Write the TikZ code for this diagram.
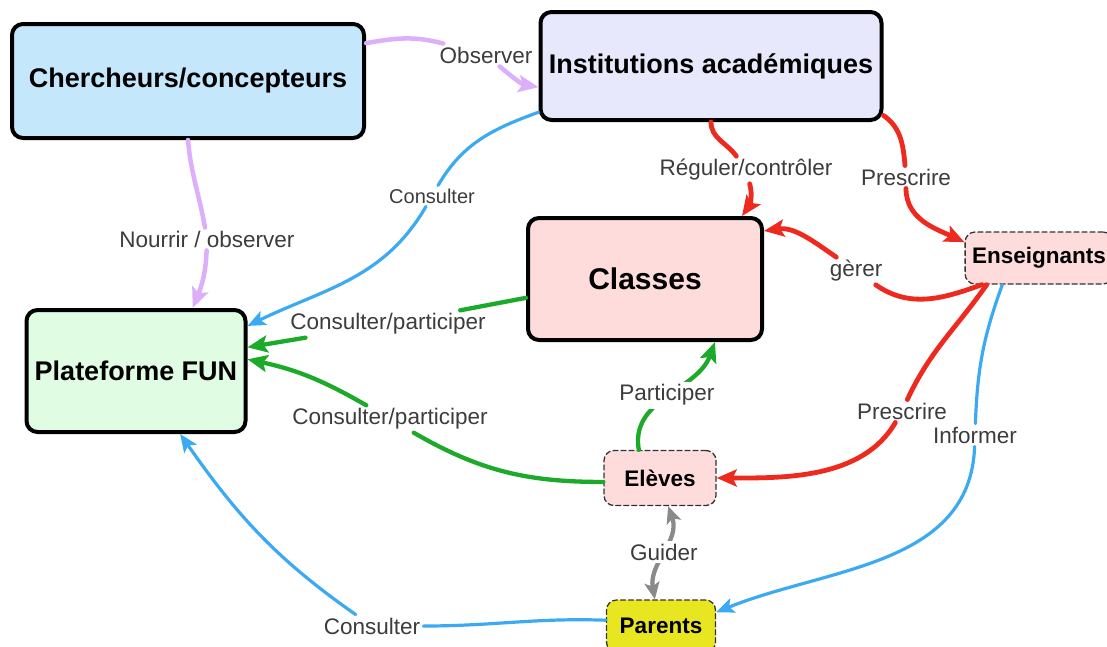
\documentclass[tikz,border=0pt]{standalone}
\usepackage{fontspec}
\setmainfont{Liberation Sans}
\usepackage{tikz}
\usetikzlibrary{arrows.meta, positioning}
\definecolor{fcblue}{HTML}{C5E7FC}
\definecolor{fclav}{HTML}{E8E8FC}
\definecolor{fcpink}{HTML}{FDDCDB}
\definecolor{fcgreen}{HTML}{E0FCE2}
\definecolor{fcyel}{HTML}{E8E620}
\definecolor{eglav}{HTML}{DDAEFA}
\definecolor{egblue}{HTML}{3BAAF3}
\definecolor{egred}{HTML}{EE2A1E}
\definecolor{eggreen}{HTML}{1DAA2A}
\definecolor{eggray}{HTML}{8A8A8A}
\definecolor{labtext}{HTML}{3C3C3C}

\begin{document}
\begin{tikzpicture}[
  x=1pt, y=-1pt,
  >={Stealth[length=20pt,width=17pt,inset=4pt]},
  line cap=round, line join=round,
  actor/.style={draw=black, line width=4pt, rounded corners=11pt, align=center,
    font=\fontsize{27}{30}\selectfont\bfseries, inner sep=4pt},
  member/.style={draw=black!80, line width=1.3pt, dash pattern=on 5pt off 3pt,
    rounded corners=10pt, fill=fcpink, font=\fontsize{22.5}{26}\selectfont\bfseries,
    inner xsep=7pt},
  lab/.style={font=\fontsize{22.5}{26}\selectfont, text=labtext, inner sep=3pt},
  lav/.style={->, draw=eglav, line width=4.5pt},
  blu/.style={->, draw=egblue, line width=3.2pt, >={Stealth[length=18pt,width=15pt,inset=4pt]}},
  rd/.style={->, draw=egred, line width=4.8pt},
  grn/.style={->, draw=eggreen, line width=4.3pt},
  gry/.style={<->, draw=eggray, line width=4.3pt, >={Stealth[length=17pt,width=15pt,inset=4pt]}},
]
\useasboundingbox (0,0) rectangle (1107,646);

% actors
\node[actor, fill=fcblue, minimum width=352pt, minimum height=114pt] (ch) at (188,81) {Chercheurs/concepteurs};
\node[actor, fill=fclav, minimum width=341pt, minimum height=108pt] (inst) at (711,66) {Institutions académiques};
\node[actor, fill=fcpink, minimum width=234pt, minimum height=122pt,
  font=\fontsize{30}{34}\selectfont\bfseries] (cls) at (645,279) {Classes};
\node[actor, fill=fcgreen, minimum width=219pt, minimum height=122pt] (fun) at (136,371) {Plateforme FUN};
\node[member, minimum height=52pt] (ens) at (1039,258) {Enseignants};
\node[member, minimum width=112pt, minimum height=55pt] (elv) at (660,478) {Elèves};
\node[member, fill=fcyel, minimum width=109pt, minimum height=52pt] (par) at (661,626) {Parents};

% labels the connectors run through
\node[lab] (obs) at (486,55) {Observer};
\node[lab] (nour) at (207,239) {Nourrir / observer};
\node[lab, font=\fontsize{20}{24}\selectfont] (con1) at (432,196) {Consulter};
\node[lab] (reg) at (746,170) {Réguler/contrôler};
\node[lab] (pre1) at (906,177) {Prescrire};
\node[lab] (ger) at (856,271) {gèrer};
\node[lab] (pre2) at (902,411) {Prescrire};
\node[lab] (inf) at (975,435) {Informer};
\node[lab] (cp1) at (388,324) {Consulter/participer};
\node[lab] (cp2) at (390,419) {Consulter/participer};
\node[lab] (con2) at (372,626) {Consulter};

% researchers
\draw[lav] (ch.12) to[out=10,in=165] (obs) to[out=-40,in=170] (inst.187);
\draw[lav] (ch.south) to[out=-85,in=100] (nour) to[out=-92,in=68] (fun.48);

% institutions
\draw[blu] (inst.195) to[out=200,in=60] (con1) to[out=-120,in=26] (fun.22);
\draw[rd] (inst.south) to[out=-90,in=125] (reg) to[out=-75,in=55] (cls.33);
\draw[rd] (inst.-16) to[out=-35,in=95] (pre1) to[out=-90,in=155] (ens.168);

% teachers
\draw[rd] (ens.205) to[out=200,in=-35] (ger) to[out=145,in=8] (cls.22);
\draw[rd] (ens.207) to[out=235,in=65] (pre2) to[out=-120,in=0,looseness=0.9] (elv.east);
\draw[blu] (ens.216) to[out=250,in=88] (inf) to[out=-92,in=22] (par.14);

% pupils and classes
\draw[grn] (cls.189) -- (cp1) -- (fun.12);
\draw[grn] (elv.184) to[out=180,in=-30] (cp2) to[out=150,in=-12] (fun.6);
\draw[grn] (elv.127) to[out=100,in=-110]
  node[lab, fill=white, pos=0.5] (pa) {Participer} (cls.318);

% parents
\draw[gry] (elv.286) to[out=-70,in=100]
  node[lab, fill=white, pos=0.5] (gui) {Guider} (par.103);
\draw[blu] (par.174) to[out=178,in=0] (con2) to[out=145,in=-55] (fun.305);
\end{tikzpicture}
\end{document}
